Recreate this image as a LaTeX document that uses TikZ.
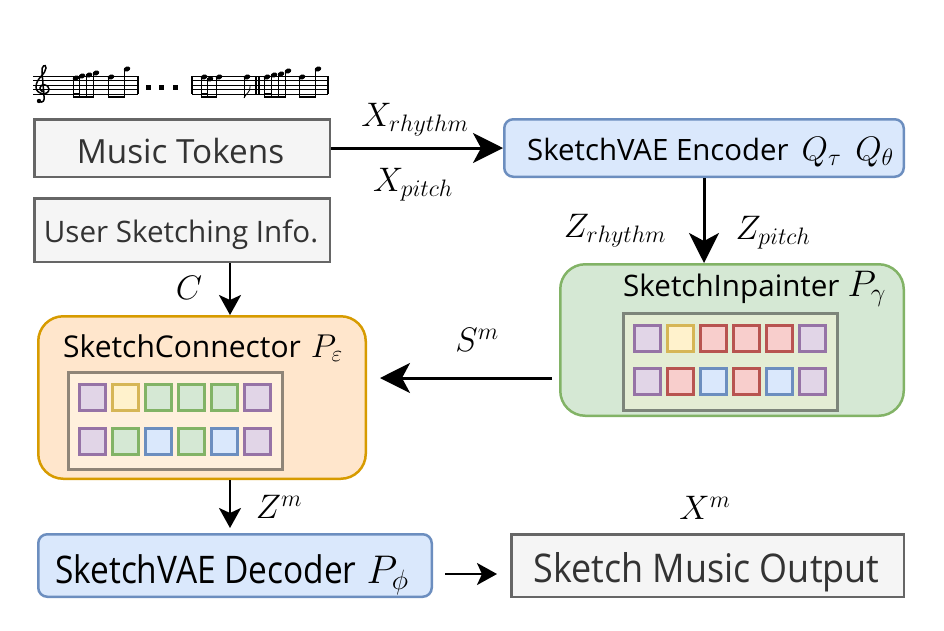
\RequirePackage{fix-cm}
\documentclass[tikz,border=0pt]{standalone}
\usepackage{fontspec}
\setmainfont{Open Sans}
\usetikzlibrary{arrows.meta}
\definecolor{grayfill}{HTML}{F5F5F5}
\definecolor{grayline}{HTML}{666666}
\definecolor{graytext}{HTML}{333333}
\definecolor{bluefill}{HTML}{DAE8FC}
\definecolor{blueline}{HTML}{6C8EBF}
\definecolor{greenfill}{HTML}{D5E8D4}
\definecolor{greenline}{HTML}{82B366}
\definecolor{orangefill}{HTML}{FFE6CC}
\definecolor{orangeline}{HTML}{D79B00}
\definecolor{purfill}{HTML}{E1D5E7}
\definecolor{purline}{HTML}{9673A6}
\definecolor{yelfill}{HTML}{FFF2CC}
\definecolor{yelline}{HTML}{D6B656}
\definecolor{grnfill}{HTML}{D5E8D4}
\definecolor{grnline}{HTML}{82B366}
\definecolor{blufill}{HTML}{DAE8FC}
\definecolor{bluline}{HTML}{6C8EBF}
\definecolor{redfill}{HTML}{F8CECC}
\definecolor{redline}{HTML}{B85450}
\definecolor{connin}{HTML}{FFF0DD}
\definecolor{conninline}{HTML}{8F8578}
\definecolor{paintin}{HTML}{E4EDD4}
\definecolor{paintinline}{HTML}{7D857A}
% math at its own size
\newcommand{\mth}[2]{{\fontsize{#1}{#1}\selectfont$#2$}}
\newcommand{\fs}[1]{\fontsize{#1}{#1}\selectfont}
\begin{document}
\begin{tikzpicture}[x=1pt, y=-1pt,
    graybox/.style={draw=grayline, fill=grayfill, line width=2.5pt, inner sep=0pt},
    bluebox/.style={draw=blueline, fill=bluefill, line width=2.5pt, rounded corners=9pt, inner sep=0pt},
    bigbox/.style={line width=2.5pt, rounded corners=25pt, inner sep=0pt},
    txt/.style={inner sep=0pt, anchor=base},
    grid/.style={line width=3pt, inner sep=0pt, minimum width=214pt, minimum height=97pt},
    cell/.style={draw=#1line, fill=#1fill, line width=3pt, minimum size=26pt, inner sep=0pt},
    bigarrow/.style={line width=3pt, -{Stealth[length=30pt, width=30pt, inset=8pt]}},
    smallarrow/.style={line width=2.5pt, -{Stealth[length=20pt, width=22pt, inset=5pt]}},
    lab/.style={font=\fs{34}, inner sep=0pt}]
\useasboundingbox (0,0) rectangle (944,630);

% music snippet
\begin{scope}[line width=0.8pt]
  \foreach \y in {76,80.6,85.2,89.8,94.4} {
    \draw (33,\y) -- (138,\y);
    \draw (192,\y) -- (328,\y);
  }
  \foreach \x in {138,192,256,259,328}
    \draw[line width=1.1pt] (\x,76) -- (\x,94.4);
  % clef
  \draw[line width=1.5pt, line cap=round]
    (39,101) .. controls (43,104) and (45,100) .. (44,96) -- (42,72)
    .. controls (41,66) and (46,63) .. (46,68)
    .. controls (46,74) and (36,78) .. (36,87)
    .. controls (36,95) and (49,96) .. (49,89)
    .. controls (49,84) and (40,83) .. (40,88)
    .. controls (40,91) and (43,92) .. (44,91);
  \fill (39,101) circle (2.2);
  % notes
  \foreach \x/\y in {76/78,82/76,89/75,96/73,111/77,127/69,
                     204/77,210/79,219/77,247/77,
                     267/77,274/75,281/74,288/71,302/77,318/69} {
    \fill[rotate around={20:(\x,\y)}] (\x,\y) ellipse [x radius=3.4, y radius=2.4];
    \draw (\x-3,\y) -- (\x-3,98);
  }
  \foreach \a/\b in {73/93,108/124,201/216,264/285,299/315}
    \draw[line width=2pt] (\a,97) -- (\b,97);
  \foreach \a/\b in {73/79,201/207,264/271}
    \draw[line width=2pt] (\a,93.5) -- (\b,93.5);
  \draw (244,98) .. controls (246,93) and (251,92) .. (250,86);
  % dots
  \foreach \x in {148,161,175}
    \fill (\x-2.5,84.5) rectangle (\x+2.5,89.5);
\end{scope}

% boxes
\node[graybox, minimum width=295.5pt, minimum height=57.5pt] (tokens) at (182,148) {};
\node[graybox, minimum width=295.5pt, minimum height=63.5pt] (user) at (182,230) {};
\node[bluebox, minimum width=399.5pt, minimum height=57.5pt] (enc) at (704,148) {};
\node[bigbox, draw=greenline, fill=greenfill, minimum width=343.5pt, minimum height=151.5pt]
  (paint) at (732,340) {};
\node[bigbox, draw=orangeline, fill=orangefill, minimum width=327.5pt, minimum height=162.5pt]
  (conn) at (202,397.5) {};
\node[bluebox, minimum width=393.5pt, minimum height=62.5pt] (dec) at (235,565.5) {};
\node[graybox, minimum width=392.5pt, minimum height=62.5pt] (out) at (707.5,565.5) {};

% box texts
\node[txt, text=graytext, font=\fs{33.3}] (tokenstext) at (180.5,163) {Music Tokens};
\node[txt, text=graytext, font=\fs{29.6}] (usertext) at (181,242) {User Sketching Info.};
\node[txt, anchor=base west, font=\fs{29.4}] (enctext) at (527,160)
  {SketchVAE Encoder\hspace{13pt}\mth{34}{Q_\tau}\hspace{14pt}\mth{34}{Q_\theta}};
\node[txt, anchor=base west] (dectext) at (55,583)
  {\scalebox{0.88}[1]{\fs{38}SketchVAE Decoder}\hspace{10pt}\mth{40}{P_\phi}};
\node[txt, text=graytext] (outtext) at (706.5,582)
  {\scalebox{0.91}[1]{\fs{39.5}Sketch Music Output}};

% titles and token grids
\node[txt, anchor=base west, font=\fs{29.6}]
  (painttitle) at (623,296) {SketchInpainter\hspace{8pt}\mth{37}{P_\gamma}};
\node[txt, anchor=base west, font=\fs{30}]
  (conntitle) at (63,357) {SketchConnector\hspace{10pt}\mth{33}{P_\varepsilon}};
\node[grid, draw=paintinline, fill=paintin] (paintgrid) at (730,362) {};
\node[grid, draw=conninline, fill=connin] (conngrid) at (175.5,421) {};
\foreach \c [count=\i] in {pur,yel,red,red,red,pur}
  \node[cell=\c] (pa\i) at ({647.5+33*(\i-1)},338.5) {};
\foreach \c [count=\i] in {pur,red,blu,red,blu,pur}
  \node[cell=\c] (pb\i) at ({647.5+33*(\i-1)},381.5) {};
\foreach \c [count=\i] in {pur,yel,grn,grn,grn,pur}
  \node[cell=\c] (ca\i) at ({92.5+32.9*(\i-1)},397.5) {};
\foreach \c [count=\i] in {pur,grn,blu,grn,blu,pur}
  \node[cell=\c] (cb\i) at ({92.5+32.9*(\i-1)},441) {};

% connectors
\coordinate (sm) at (0,378);
\coordinate (xm) at (0,574);
\draw[bigarrow] (tokens.east) -- (enc.west);
\draw[bigarrow] (enc.south) -- (enc.south |- paint.north);
\draw[smallarrow] (user.south -| 230,0) -- (conn.north -| 230,0);
\draw[bigarrow, shorten <=7pt, shorten >=13pt] (paint.west |- sm) -- (conn.east |- sm);
\draw[smallarrow, shorten >=5pt] (conn.south -| 230,0) -- (dec.north -| 230,0);
\draw[smallarrow, shorten <=12pt, shorten >=13pt] (dec.east |- xm) -- (out.west |- xm);

% labels
\node[lab] (xr) at (415,120) {$X_{rhythm}$};
\node[lab] (xp) at (413,185) {$X_{pitch}$};
\node[lab] (zr) at (615,231) {$Z_{rhythm}$};
\node[lab] (zp) at (773,233) {$Z_{pitch}$};
\node[lab] (cl) at (189,288) {$C$};
\node[lab] (sl) at (477,340) {$S^m$};
\node[lab] (zm) at (279,507) {$Z^m$};
\node[lab] (xml) at (705,508) {$X^m$};
\end{tikzpicture}
\end{document}
